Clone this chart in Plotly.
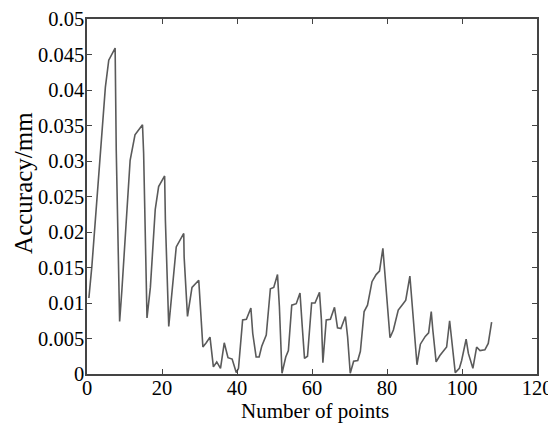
import plotly.graph_objects as go

# Data
x_points = [0.5, 1.3, 4.9, 5.8, 7.5, 7.8, 8.7, 9.3, 11.5, 12.8, 14.8, 15.1, 16.0, 16.9, 18.2, 19.1,
            20.7, 20.9, 21.8, 22.7, 23.8, 25.8, 25.9, 26.8, 28.0, 29.8, 30.1, 30.9, 31.8, 32.8,
            33.7, 34.6, 35.6, 36.6, 37.6, 38.7, 39.8, 40.4, 41.5, 42.5, 43.7, 44.2, 45.1, 45.9,
            46.6, 47.8, 48.9, 49.8, 50.8, 51.3, 52.0, 53.0, 53.7, 54.6, 55.8, 56.8, 57.4, 58.0,
            58.8, 59.9, 60.8, 62.0, 62.5, 62.9, 63.8, 64.9, 66.0, 66.8, 67.7, 68.9, 69.5, 70.2,
            71.1, 72.2, 72.9, 73.9, 74.8, 76.0, 77.1, 78.0, 78.9, 79.3, 80.8, 81.7, 83.0, 84.3,
            85.0, 86.1, 86.5, 88.0, 88.9, 90.2, 91.1, 91.8, 92.2, 93.1, 94.1, 95.3, 95.9, 96.7,
            97.3, 98.2, 99.3, 99.9, 101.1, 101.7, 102.9, 103.9, 104.8, 106.1, 107.0, 107.9]
accuracy = [0.0107, 0.0152, 0.0404, 0.0442, 0.0459, 0.0315, 0.0074, 0.0118, 0.0301, 0.0337, 0.0351,
            0.0311, 0.0079, 0.0122, 0.0232, 0.0264, 0.0279, 0.0217, 0.0067, 0.0122, 0.0179, 0.0198,
            0.0165, 0.0081, 0.0122, 0.0132, 0.0104, 0.0038, 0.0044, 0.0052, 0.0010, 0.0017, 0.0008,
            0.0044, 0.0023, 0.0021, 0.0002, 0.0008, 0.0076, 0.0077, 0.0093, 0.0057, 0.0024, 0.0024,
            0.0039, 0.0055, 0.0120, 0.0122, 0.0140, 0.0095, 0.0001, 0.0024, 0.0033, 0.0097, 0.0099,
            0.0114, 0.0067, 0.0022, 0.0025, 0.0100, 0.0100, 0.0115, 0.0077, 0.0016, 0.0076, 0.0077,
            0.0094, 0.0065, 0.0064, 0.0081, 0.0052, 0.0001, 0.0018, 0.0019, 0.0032, 0.0088, 0.0097,
            0.0130, 0.0140, 0.0145, 0.0177, 0.0148, 0.0051, 0.0062, 0.0090, 0.0099, 0.0104, 0.0138,
            0.0114, 0.0013, 0.0042, 0.0053, 0.0058, 0.0088, 0.0063, 0.0017, 0.0026, 0.0034, 0.0038,
            0.0075, 0.0048, 0.0002, 0.0008, 0.0019, 0.0049, 0.0029, 0.0008, 0.0038, 0.0033, 0.0034,
            0.0043, 0.0073]

x_ticks = [0, 20, 40, 60, 80, 100, 120]
y_ticks = [0, 0.005, 0.01, 0.015, 0.02, 0.025, 0.03, 0.035, 0.04, 0.045, 0.05]
y_tick_labels = ["0", "0.005", "0.01", "0.015", "0.02", "0.025", "0.03", "0.035", "0.04", "0.045", "0.05"]
x_title = "Number of points"
y_title = "Accuracy/mm"

font_family = "Liberation Serif"

fig = go.Figure()
fig.add_trace(go.Scatter(x=x_points, y=accuracy, mode="lines",
                         line=dict(color="#5a5a5a", width=1.6), showlegend=False))

axis_common = dict(showline=True, linecolor="#444444", linewidth=1.5, mirror="ticks",
                   ticks="inside", ticklen=5, tickcolor="#444444", tickwidth=1,
                   showgrid=False, zeroline=False, automargin=False,
                   tickfont=dict(family=font_family, size=20.5, color="black"))

fig.update_xaxes(range=[0, 120], tickvals=x_ticks, ticktext=[str(v) for v in x_ticks],
                 ticklabelstandoff=-5, **axis_common)
fig.update_yaxes(range=[0, 0.05], tickvals=y_ticks, ticktext=y_tick_labels,
                 ticklabelstandoff=-3, **axis_common)

fig.add_annotation(text=x_title, xref="paper", yref="paper", x=0.507, y=-0.103,
                   xanchor="center", yanchor="middle", showarrow=False,
                   font=dict(family=font_family, size=21, color="black"))
fig.add_annotation(text=y_title, xref="paper", yref="paper", x=-0.141, y=0.537,
                   xanchor="center", yanchor="middle", showarrow=False, textangle=-90,
                   font=dict(family=font_family, size=25, color="black"))

# The page body adds an 8 px offset, so margins are set to put the plot area where the reference has it
fig.update_layout(width=556, height=425, margin=dict(l=79, r=27, t=10.5, b=59),
                  paper_bgcolor="white", plot_bgcolor="white")

fig.write_html("out.html")
